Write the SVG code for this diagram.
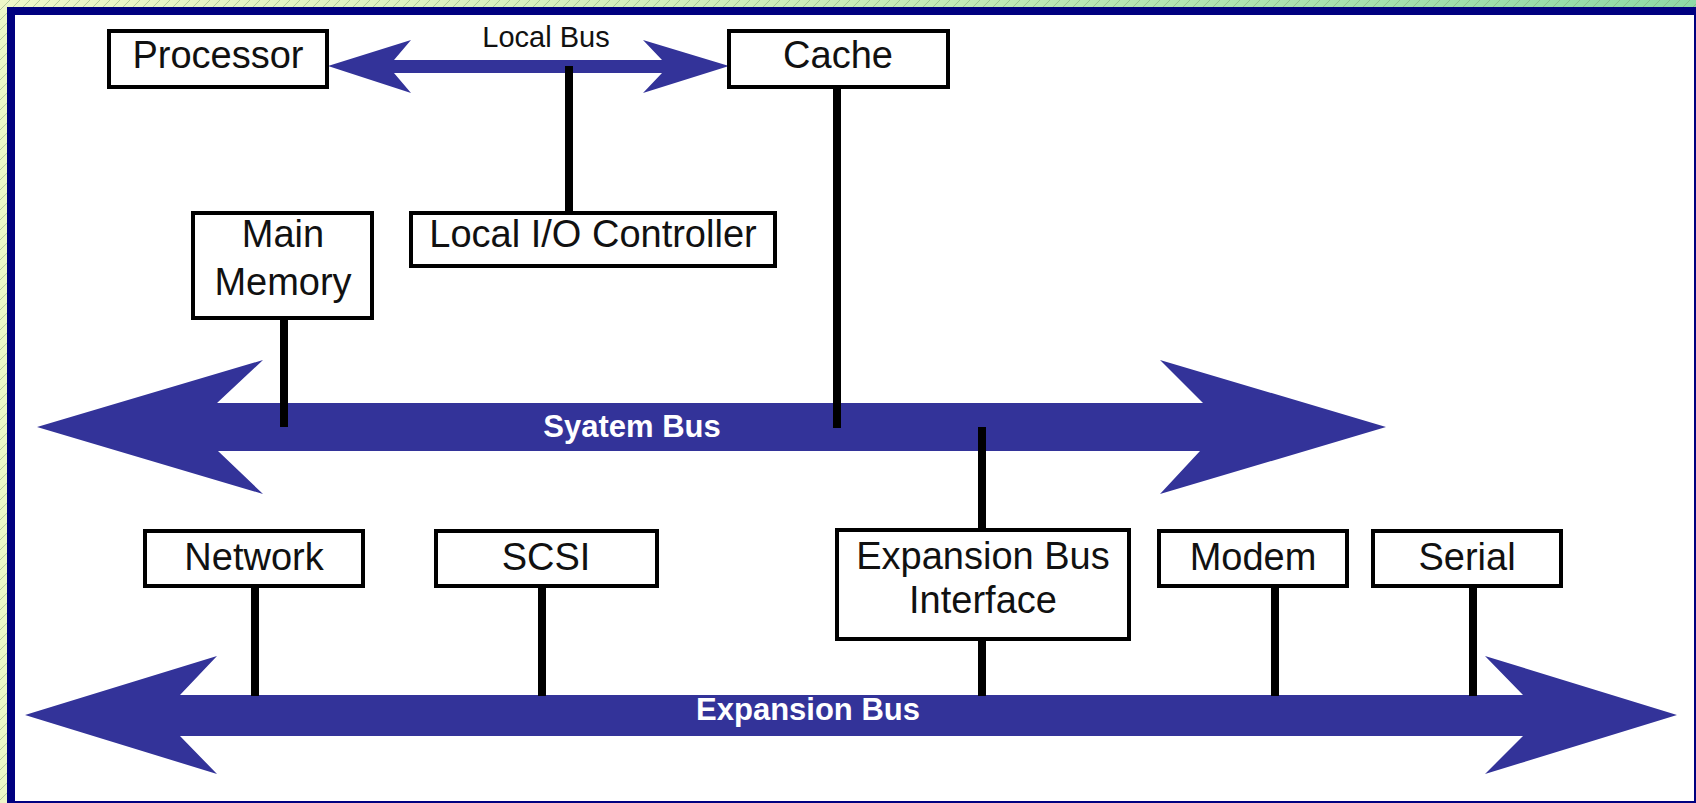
<svg xmlns="http://www.w3.org/2000/svg" width="1696" height="803" viewBox="0 0 1696 803">
  <defs>
    <linearGradient id="bgGrad" x1="0" y1="0" x2="1" y2="0">
      <stop offset="0" stop-color="#eef7c8"/>
      <stop offset="0.5" stop-color="#c8ecb8"/>
      <stop offset="1" stop-color="#8fdaa6"/>
    </linearGradient>
    <pattern id="hatch" width="10" height="10" patternUnits="userSpaceOnUse">
      <path d="M0,10 L10,0" stroke="#7a9a70" stroke-width="0.8" stroke-opacity="0.6"/>
    </pattern>
    <style>
      .box { fill: #ffffff; stroke: #000000; stroke-width: 4; }
      .lbl { font-family: "Liberation Sans", Arial, sans-serif; font-size: 38px; fill: #111111; text-anchor: middle; }
      .bus { fill: #333399; }
      .buslbl { font-family: "Liberation Sans", Arial, sans-serif; font-size: 31px; font-weight: bold; fill: #ffffff; text-anchor: middle; }
      .line { stroke: #000000; stroke-width: 8; fill: none; }
    </style>
  </defs>

  <!-- background frame -->
  <rect x="0" y="0" width="1696" height="803" fill="url(#bgGrad)"/>
  <rect x="0" y="0" width="1696" height="803" fill="url(#hatch)"/>
  <rect x="7" y="7" width="1689" height="796" fill="#000080"/>
  <rect x="15" y="15" width="1679" height="786" fill="#ffffff"/>

  <!-- buses -->
  <g id="buses">
    <g id="local-bus">
      <polygon class="bus" points="328,66 411,40 394,60 662,60 643,40 729,66 643,93 662,73 394,73 411,93"/>
      <text x="546" y="47" font-family="Liberation Sans, Arial, sans-serif" font-size="29" fill="#111111" text-anchor="middle">Local Bus</text>
    </g>
    <g id="system-bus">
      <polygon class="bus" points="37,427 263,360 217,403 1203,403 1160,360 1386,427 1160,494 1200,451 218,451 263,494"/>
    </g>
    <g id="expansion-bus">
      <polygon class="bus" points="25,715 217,656 180,695 1523,695 1485,656 1677,715 1485,774 1523,736 180,736 217,774"/>
    </g>
  </g>

  <!-- connectors -->
  <g id="connectors">
    <line class="line" x1="569" y1="66" x2="569" y2="212" stroke-width="7"/>
    <line class="line" x1="837" y1="88" x2="837" y2="428"/>
    <line class="line" x1="284" y1="319" x2="284" y2="427"/>
    <line class="line" x1="982" y1="427" x2="982" y2="530" stroke-width="10"/>
    <line class="line" x1="982" y1="639" x2="982" y2="696" stroke-width="10"/>
    <line class="line" x1="255" y1="587" x2="255" y2="696"/>
    <line class="line" x1="542" y1="587" x2="542" y2="696"/>
    <line class="line" x1="1275" y1="587" x2="1275" y2="696"/>
    <line class="line" x1="1473" y1="587" x2="1473" y2="696"/>
  </g>

  <!-- bus labels (drawn over connectors) -->
  <text class="buslbl" x="632" y="437">Syatem Bus</text>
  <text class="buslbl" x="808" y="720">Expansion Bus</text>

  <!-- nodes -->
  <g id="processor">
    <rect class="box" x="109" y="31" width="218" height="56"/>
    <text class="lbl" x="218" y="68">Processor</text>
  </g>
  <g id="cache">
    <rect class="box" x="729" y="31" width="219" height="56"/>
    <text class="lbl" x="838" y="68">Cache</text>
  </g>
  <g id="main-memory">
    <rect class="box" x="193" y="213" width="179" height="105"/>
    <text class="lbl" x="283" y="247">Main</text>
    <text class="lbl" x="283" y="295">Memory</text>
  </g>
  <g id="local-io-controller">
    <rect class="box" x="411" y="213" width="364" height="53"/>
    <text class="lbl" x="593" y="247">Local I/O Controller</text>
  </g>
  <g id="network">
    <rect class="box" x="145" y="531" width="218" height="55"/>
    <text class="lbl" x="254" y="570">Network</text>
  </g>
  <g id="scsi">
    <rect class="box" x="436" y="531" width="221" height="55"/>
    <text class="lbl" x="546" y="570">SCSI</text>
  </g>
  <g id="expansion-bus-interface">
    <rect class="box" x="837" y="530" width="292" height="109"/>
    <text class="lbl" x="983" y="569">Expansion Bus</text>
    <text class="lbl" x="983" y="613">Interface</text>
  </g>
  <g id="modem">
    <rect class="box" x="1159" y="531" width="188" height="55"/>
    <text class="lbl" x="1253" y="570">Modem</text>
  </g>
  <g id="serial">
    <rect class="box" x="1373" y="531" width="188" height="55"/>
    <text class="lbl" x="1467" y="570">Serial</text>
  </g>
</svg>
